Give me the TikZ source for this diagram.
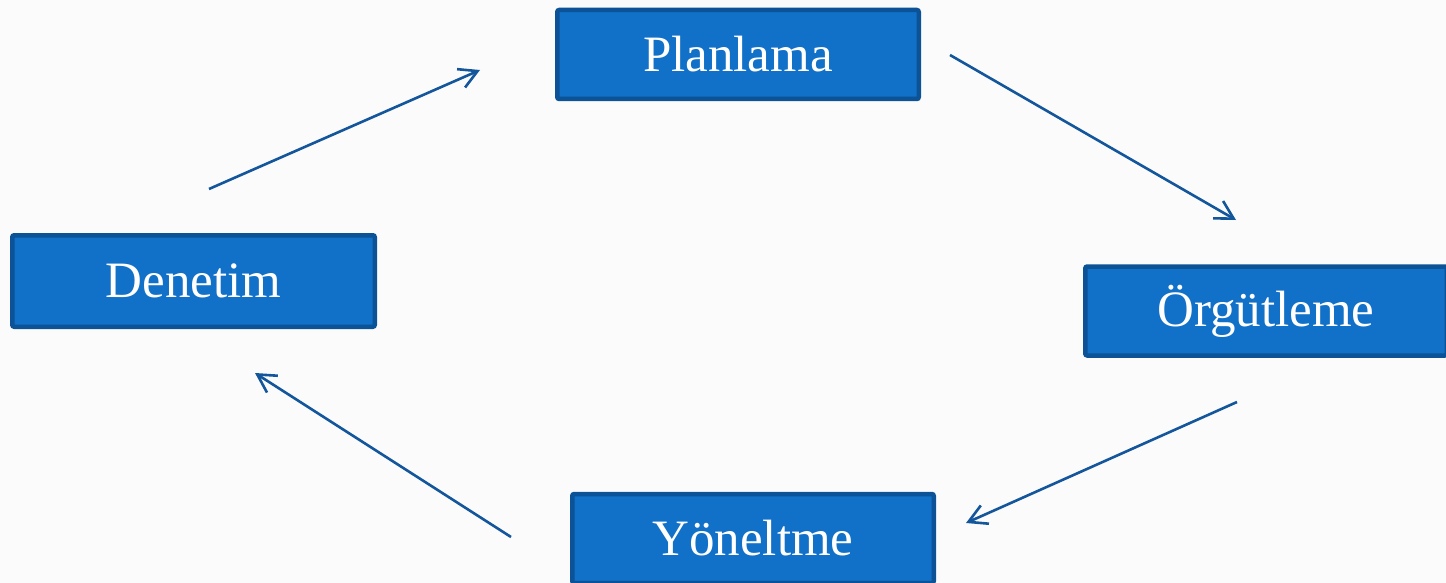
\documentclass[tikz,border=0pt]{standalone}
\usepackage{fontspec}
\setmainfont{Liberation Serif}
\usetikzlibrary{arrows.meta}
\definecolor{boxfill}{RGB}{17,112,199}
\definecolor{boxborder}{RGB}{12,82,150}
\definecolor{arrowcol}{RGB}{20,86,156}
\definecolor{bgcol}{RGB}{251,251,251}
\tikzset{
  stepbox/.style={rectangle, draw=boxborder, fill=boxfill, line width=4.5pt,
    rounded corners=2pt, minimum width=361.5pt, minimum height=89pt,
    text=white, font=\fontsize{51}{60}\selectfont, inner sep=0pt},
  cyclearrow/.style={draw=arrowcol, line width=2.6pt,
    -{Straight Barb[length=18pt,width=20pt,line width=2.6pt]}}
}
\begin{document}
\begin{tikzpicture}[x=1pt,y=-1pt]
  \fill[bgcol] (0,0) rectangle (1446,583);
  \useasboundingbox (0,0) rectangle (1446,583);
  \clip (0,0) rectangle (1446,583);
  \node[stepbox] (plan) at (738,54.5) {Planlama};
  \node[stepbox, minimum width=362.5pt, minimum height=91.5pt] (den) at (193.5,281) {Denetim};
  \node[stepbox] (org) at (1266,311) {Örgütleme};
  \node[stepbox] (yon) at (753,538.5) {Yöneltme};
  \coordinate (a1s) at (950,55);
  \coordinate (a1e) at (1236,220);
  \coordinate (a2s) at (1237,402);
  \coordinate (a2e) at (966,523);
  \coordinate (a3s) at (511,537);
  \coordinate (a3e) at (255,373);
  \coordinate (a4s) at (209,189);
  \coordinate (a4e) at (480,70);
  \draw[cyclearrow] (a1s) -- (a1e);
  \draw[cyclearrow] (a2s) -- (a2e);
  \draw[cyclearrow] (a3s) -- (a3e);
  \draw[cyclearrow] (a4s) -- (a4e);
\end{tikzpicture}
\end{document}
